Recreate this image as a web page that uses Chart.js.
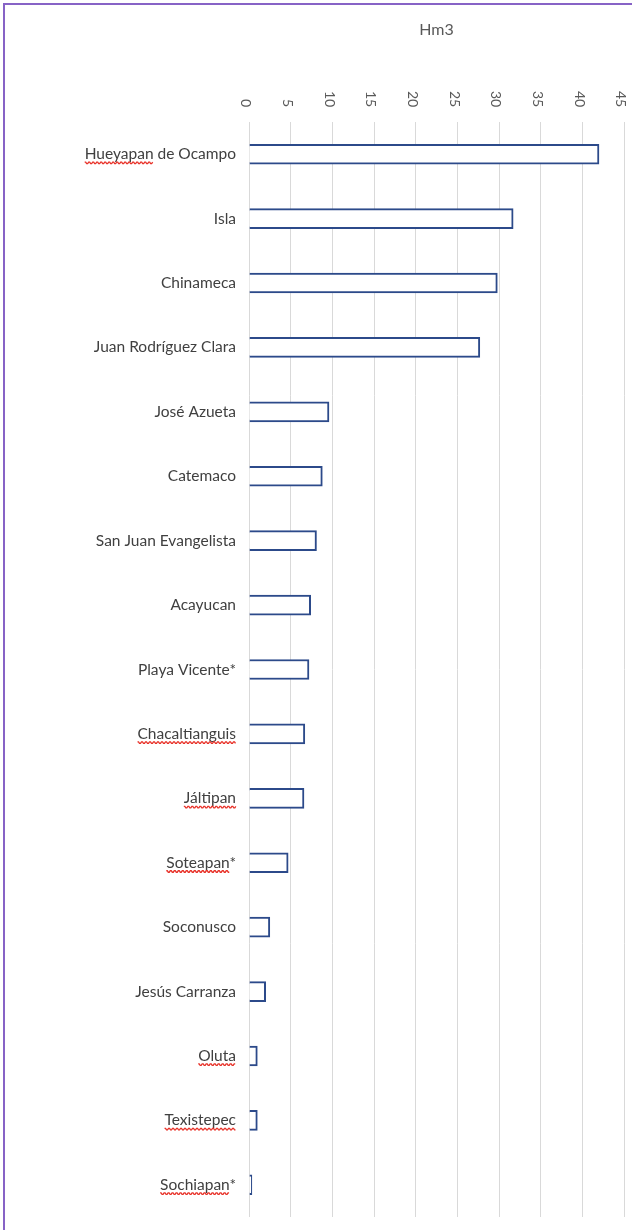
<!DOCTYPE html>
<html>
<head>
<meta charset="utf-8">
<script src="https://cdn.jsdelivr.net/npm/chart.js@4.4.1/dist/chart.umd.min.js"></script>
<style>
  html, body { margin: 0; padding: 0; background: #fff; }
  #wrap { position: relative; width: 632px; height: 1230px; }
  #frame { position: absolute; left: 3px; top: 3px; right: -10px; bottom: -10px;
           border-left: 2px solid #8763c6; border-top: 2px solid #8763c6; pointer-events: none; }
  canvas { position: absolute; left: 0; top: 0; }
</style>
</head>
<body>
<div id="wrap">
  <canvas id="chart" width="632" height="1230"></canvas>
  <div id="frame"></div>
</div>
<script>
// Municipalities (top to bottom) and volume in Hm3
const municipios = [
    'Hueyapan de Ocampo', 'Isla', 'Chinameca', 'Juan Rodríguez Clara', 'José Azueta',
    'Catemaco', 'San Juan Evangelista', 'Acayucan', 'Playa Vicente*', 'Chacaltianguis',
    'Jáltipan', 'Soteapan*', 'Soconusco', 'Jesús Carranza', 'Oluta', 'Texistepec', 'Sochiapan*'
];
const volumen = [42.0, 31.7, 29.8, 27.7, 9.6, 8.8, 8.1, 7.4, 7.2, 6.7, 6.6, 4.7, 2.5, 2.0, 1.0, 1.0, 0.35];
const axisTicks = [0, 5, 10, 15, 20, 25, 30, 35, 40, 45];
const axisTitle = 'Hm3';
// labels that carry the red spell-check squiggle in the original
const flagged = ['Hueyapan de Ocampo', 'Chacaltianguis', 'Jáltipan', 'Soteapan*', 'Oluta', 'Texistepec', 'Sochiapan*'];

const labelFont = { family: 'Lato', size: 15.5 };

// red wavy underline under first word of flagged labels
const squiggles = {
    id: 'squiggles',
    afterDraw(chart) {
        const ctx = chart.ctx;
        const y = chart.scales.y;
        const pad = y.options.ticks.padding;
        ctx.save();
        ctx.font = labelFont.size + 'px ' + labelFont.family;
        ctx.strokeStyle = '#e8332a';
        ctx.lineWidth = 1.3;
        municipios.forEach((name, i) => {
            if (!flagged.includes(name)) return;
            const xEnd = y.right - pad;
            const full = ctx.measureText(name).width;
            const word = name.split(' ')[0].replace('*', '');
            const w = ctx.measureText(word).width;
            const x0 = xEnd - full;
            const yy = y.getPixelForValue(i) + 8;
            ctx.beginPath();
            for (let x = 0; x <= w; x += 1) {
                const dy = (Math.floor(x / 2) % 2 === 0) ? 0 : 1.5;
                if (x === 0) ctx.moveTo(x0 + x, yy + dy); else ctx.lineTo(x0 + x, yy + dy);
            }
            ctx.stroke();
        });
        ctx.restore();
    }
};

new Chart(document.getElementById('chart'), {
    type: 'bar',
    data: {
        labels: municipios,
        datasets: [{
            data: volumen,
            backgroundColor: '#ffffff',
            borderColor: '#2c4a8a',
            borderWidth: 2,
            barThickness: 20
        }]
    },
    options: {
        indexAxis: 'y',
        responsive: false,
        animation: false,
        layout: { padding: { left: 0, top: 0, right: 8, bottom: 13 } },
        plugins: { legend: { display: false }, tooltip: { enabled: false } },
        scales: {
            x: {
                position: 'top',
                min: 0,
                max: 45,
                afterBuildTicks: (s) => { s.ticks = axisTicks.map(v => ({ value: v })); },
                afterFit: (s) => {
                    s.height = 122;
                    s.paddingLeft = 0;
                    s.paddingRight = 0;
                },
                ticks: {
                    minRotation: -90,
                    maxRotation: -90,
                    padding: 31,
                    labelOffset: -20,
                    color: '#595959',
                    font: { family: 'Lato', size: 14 },
                    callback: (v) => (v < 10 ? '\u2007' : '') + v
                },
                grid: { color: '#d9d9d9', drawTicks: false },
                border: { display: false },
                title: {
                    display: true,
                    text: axisTitle,
                    color: '#595959',
                    font: { family: 'Lato', size: 16 },
                    padding: { top: 20 }
                }
            },
            y: {
                afterFit: (s) => {
                    s.width = 249;
                    s.paddingTop = 0;
                    s.paddingBottom = 0;
                },
                ticks: {
                    padding: 13,
                    color: '#404040',
                    font: labelFont
                },
                grid: { display: false, drawTicks: false },
                border: { display: false }
            }
        }
    },
    plugins: [squiggles]
});
</script>
</body>
</html>
